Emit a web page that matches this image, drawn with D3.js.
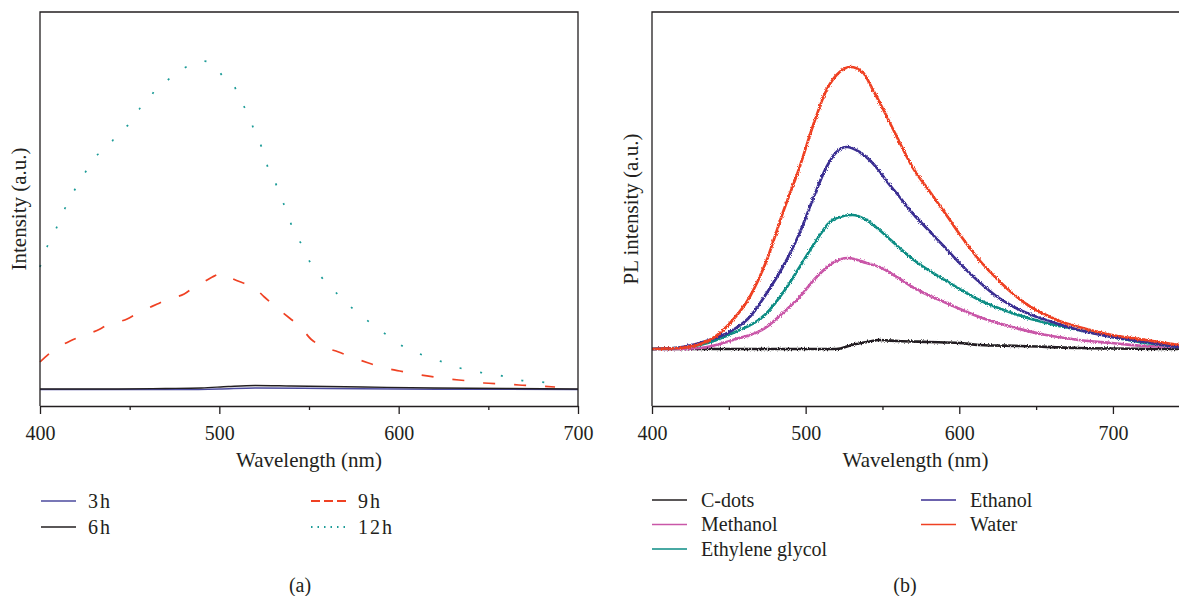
<!DOCTYPE html>
<html>
<head>
<meta charset="utf-8">
<script src="https://cdn.jsdelivr.net/npm/d3@7/dist/d3.min.js"></script>
<style>
  body { margin: 0; background: #fff; }
  svg { display: block; font-family: "Liberation Serif", "DejaVu Serif", serif; }
  .lbl { font-size: 20px; fill: #231f20; font-family: "Liberation Serif", "DejaVu Serif", serif; }
  .ttl { font-size: 21px; }
</style>
</head>
<body>
<svg id="chart" width="1179" height="596"></svg>
<script>
// ---- data (a): intensity vs wavelength ----
let wl3h = [400, 480, 500, 520, 560, 600, 700];
let int3h = [-0.5, -0.5, 0, 1, 0.5, 0, -0.5];
let wl6h = [400, 440, 470, 490, 505, 520, 540, 560, 580, 620, 660, 700];
let int6h = [0, 0, 0.5, 1, 2.5, 3.5, 3, 2.5, 2, 1, 0.5, 0];
let wl9h = [400, 405.6, 416.8, 423.5, 433.5, 437.4, 448.6, 454.7, 465.4, 471.5, 480.4, 486, 492.2, 496.1,
  502.2, 505.6, 513.4, 518.4, 525.1, 530.2, 539.1, 545.3, 551, 557, 566.5, 572.1, 583.2, 590, 600.6,
  609, 619.6, 628, 639.1, 647.5, 659.2, 667, 678.8, 687.2];
let int9h = [27, 36, 48, 53, 60, 64, 70, 76, 85, 90, 95, 102, 108, 112,
  116, 112, 106, 103, 92, 84, 71, 62, 50, 43, 37, 33, 26, 22, 18,
  15, 12, 10, 8, 6, 5, 4, 3, 2];
let wl12h = [400, 403.9, 408.9, 414, 419.6, 425.7, 431.3, 437.4, 444, 450.3, 455.9, 460.3, 463.7, 469.3,
  476, 480.4, 485.5, 491, 497.2, 502.8, 506.7, 511.2, 515.6, 520.1, 524.6, 527.9, 530.7, 533.5, 538,
  541.9, 546.9, 549.7, 556.4, 562.6, 570.9, 578.8, 587.2, 595, 603.9, 613.4, 624.6, 634.1, 644.1,
  655.3, 667, 678.8, 690.5];
let int12h = [122, 142, 160, 181, 200, 218, 233, 241, 257, 266, 281, 287, 298, 306,
  316, 321, 325, 328, 324, 311, 308, 291, 276, 256, 237, 217, 209, 195, 176,
  155, 142, 130, 113, 101, 86, 74, 62, 52, 41, 34, 27, 21, 17,
  14, 9, 7, 5];

// ---- data (b): PL intensity in different solvents ----
let wlWater = [400, 418.2, 437.7, 452.6, 463.6, 474.7, 485.1, 496.1, 504.5, 513.6, 522.1, 529.2, 537,
  543.5, 550, 556.5, 562, 569.5, 580.5, 591.6, 602, 613, 624, 634.4, 645.5, 656.5, 666.9, 677.9, 699.4, 721.4, 743];
let intWater = [0, 1, 9, 29, 52, 89, 136, 182, 222, 259, 277, 282, 277,
  260, 241, 221, 204, 182, 158, 134, 111, 89, 71, 56, 43, 34, 27, 22, 14, 9, 4];
let wlEthanol = [400, 415, 431.2, 452.6, 463.6, 474.7, 485.1, 496.1, 504.5, 513.6, 520.1, 526.6, 535.1,
  543.5, 548, 552.6, 559.1, 569.5, 580.5, 591.6, 602, 613, 624, 634.4, 645.5, 656.5, 677.9, 699.4, 721.4, 743];
let intEthanol = [0, 1, 6, 19, 32, 56, 82, 116, 149, 182, 197, 202, 197,
  186, 178, 168, 156, 136, 118, 100, 83, 67, 53, 43, 35, 29, 19, 12, 7, 2];
let wlGlycol = [400, 415, 431.2, 452.6, 474.7, 485.1, 496.1, 507.1, 517.5, 530.5, 539.6, 548, 560.4,
  569.5, 591.6, 613, 634.4, 656.5, 677.9, 699.4, 721.4, 743];
let intGlycol = [0, 1, 4, 16, 36, 56, 82, 109, 129, 134, 129, 119, 102,
  90, 68, 49, 36, 26, 19, 12, 6, 2];
let wlMethanol = [400, 415, 431.2, 452.6, 474.7, 485.1, 496.1, 507.1, 517.5, 527.3, 539.6, 548, 560.4,
  569.5, 591.6, 613, 634.4, 656.5, 677.9, 699.4, 721.4, 743];
let intMethanol = [0, 0, 1, 9, 22, 36, 52, 72, 86, 91, 86, 82, 71,
  62, 46, 32, 22, 14, 9, 6, 3, 2];
let wlCdots = [400, 450, 500, 520, 530, 540, 548, 560, 580, 600, 613, 640, 678, 743];
let intCdots = [0, 0, 0, 0, 4, 7, 9, 8, 7, 6, 4, 3, 1, 0];

let tickMajor = [400, 500, 600, 700];
let tickMinor = [450, 550, 650];

let seriesA = [
  { name: '3h', wl: wl3h, val: int3h, color: '#4b4a9e', dash: null, legendDash: null },
  { name: '6h', wl: wl6h, val: int6h, color: '#231f20', dash: null, legendDash: null },
  { name: '9h', wl: wl9h, val: int9h, color: '#ef4123', dash: '12,19', legendDash: '9,4' },
  { name: '12h', wl: wl12h, val: int12h, color: '#1b9b97', dash: '2,19', legendDash: '1.5,5' }
];
let seriesB = [
  { name: 'C-dots', wl: wlCdots, val: intCdots, color: '#231f20' },
  { name: 'Methanol', wl: wlMethanol, val: intMethanol, color: '#c957a8' },
  { name: 'Ethylene glycol', wl: wlGlycol, val: intGlycol, color: '#0b8d84' },
  { name: 'Ethanol', wl: wlEthanol, val: intEthanol, color: '#3a2e92' },
  { name: 'Water', wl: wlWater, val: intWater, color: '#ef4123' }
];

let svg = d3.select('#chart');
let ink = '#231f20';

let defs = svg.append('defs');
let filt = defs.append('filter').attr('id', 'jitter')
  .attr('filterUnits', 'userSpaceOnUse')
  .attr('x', 0).attr('y', 0).attr('width', 1179).attr('height', 596);
filt.append('feTurbulence').attr('type', 'fractalNoise')
  .attr('baseFrequency', '1.3 1.0').attr('numOctaves', 1).attr('seed', 4).attr('result', 'n');
filt.append('feDisplacementMap').attr('in', 'SourceGraphic').attr('in2', 'n')
  .attr('scale', 4.5).attr('xChannelSelector', 'R').attr('yChannelSelector', 'G');

function drawAxis(g, x, bottom) {
  g.append('g')
    .attr('transform', 'translate(0,' + bottom + ')')
    .call(d3.axisBottom(x).tickValues(tickMinor).tickSize(4).tickSizeOuter(0).tickFormat(''))
    .call(s => s.select('.domain').remove())
    .call(s => s.selectAll('line').attr('stroke', ink).attr('stroke-width', 1.3));
  let ax = g.append('g')
    .attr('transform', 'translate(0,' + bottom + ')')
    .call(d3.axisBottom(x).tickValues(tickMajor).tickSize(8).tickSizeOuter(0).tickPadding(12));
  ax.attr('font-family', null).attr('font-size', null);
  ax.select('.domain').attr('stroke', ink).attr('stroke-width', 1.3);
  ax.selectAll('line').attr('stroke', ink).attr('stroke-width', 1.3);
  ax.selectAll('text').attr('class', 'lbl').attr('fill', null);
}

//======= panel (a) =======//
let xA = d3.scaleLinear().domain([400, 700]).range([40, 578]);
let yA = d3.scaleLinear().domain([-17, 377]).range([406, 12]);
let gA = svg.append('g');

seriesA.forEach(s => {
  let pts = s.wl.map((w, i) => [w, s.val[i]]);
  gA.append('path')
    .datum(pts)
    .attr('fill', 'none')
    .attr('stroke', s.color)
    .attr('stroke-width', s.dash ? 1.7 : 1.4)
    .attr('stroke-dasharray', s.dash)
    .attr('d', d3.line().curve(d3.curveMonotoneX)
      .x(d => xA(d[0]))
      .y(d => yA(d[1])));
});

gA.append('path')
  .attr('d', 'M' + xA(400) + ',' + yA(-17) + 'V' + yA(377) + 'H' + xA(700) + 'V' + yA(-17))
  .attr('fill', 'none').attr('stroke', ink).attr('stroke-width', 1.3);
drawAxis(gA, xA, 406);

gA.append('text').attr('class', 'lbl ttl')
  .attr('x', (xA(400) + xA(700)) / 2).attr('y', 467)
  .attr('text-anchor', 'middle').text('Wavelength (nm)');
gA.append('text').attr('class', 'lbl ttl')
  .attr('transform', 'translate(26,209) rotate(-90)')
  .attr('text-anchor', 'middle').text('Intensity (a.u.)');

let legA = gA.selectAll('.legA').data(seriesA).enter().append('g')
  .attr('transform', (d, i) => 'translate(' + (i < 2 ? 41 : 311) + ',' + (501 + (i % 2) * 26) + ')');
legA.append('line').attr('x1', 0).attr('x2', 35).attr('y1', 0).attr('y2', 0)
  .attr('stroke', d => d.color).attr('stroke-width', d => d.legendDash ? 1.8 : 1.4)
  .attr('stroke-dasharray', d => d.legendDash);
legA.append('text').attr('class', 'lbl').attr('x', 47).attr('y', 6.5)
  .attr('letter-spacing', 2).text(d => d.name);

gA.append('text').attr('class', 'lbl').attr('x', 300).attr('y', 592)
  .attr('text-anchor', 'middle').text('(a)');

//======= panel (b) =======//
let xB = d3.scaleLinear().domain([400, 743]).range([652, 1179]);
let yB = d3.scaleLinear().domain([-57, 337]).range([406, 12]);
let gB = svg.append('g');

gB.append('g').attr('filter', 'url(#jitter)')
  .selectAll('path').data(seriesB).enter().append('path')
  .attr('fill', 'none')
  .attr('stroke', d => d.color)
  .attr('stroke-width', 2.7)
  .attr('d', s => d3.line().curve(d3.curveMonotoneX)
    .x(d => xB(d[0]))
    .y(d => yB(d[1]))(s.wl.map((w, i) => [w, s.val[i]])));

gB.append('path')
  .attr('d', 'M' + xB(400) + ',' + yB(-57) + 'V' + yB(337) + 'H' + xB(743))
  .attr('fill', 'none').attr('stroke', ink).attr('stroke-width', 1.3);
drawAxis(gB, xB, 406);

gB.append('text').attr('class', 'lbl ttl')
  .attr('x', (xB(400) + xB(743)) / 2).attr('y', 467)
  .attr('text-anchor', 'middle').text('Wavelength (nm)');
gB.append('text').attr('class', 'lbl ttl')
  .attr('transform', 'translate(638,209) rotate(-90)')
  .attr('text-anchor', 'middle').text('PL intensity (a.u.)');

let legOrder = ['C-dots', 'Methanol', 'Ethylene glycol', 'Ethanol', 'Water'];
let legB = gB.selectAll('.legB').data(seriesB).enter().append('g')
  .attr('transform', d => {
    let i = legOrder.indexOf(d.name);
    let col = i < 3 ? 0 : 1;
    let row = i < 3 ? i : i - 3;
    return 'translate(' + (col ? 921 : 652) + ',' + (500 + row * 24.5) + ')';
  });
legB.append('line').attr('x1', 0).attr('x2', 35).attr('y1', 0).attr('y2', 0)
  .attr('stroke', d => d.color).attr('stroke-width', 1.5);
legB.append('text').attr('class', 'lbl').attr('x', 49).attr('y', 6.5).text(d => d.name);

gB.append('text').attr('class', 'lbl').attr('x', 905).attr('y', 592)
  .attr('text-anchor', 'middle').text('(b)');
</script>
</body>
</html>
